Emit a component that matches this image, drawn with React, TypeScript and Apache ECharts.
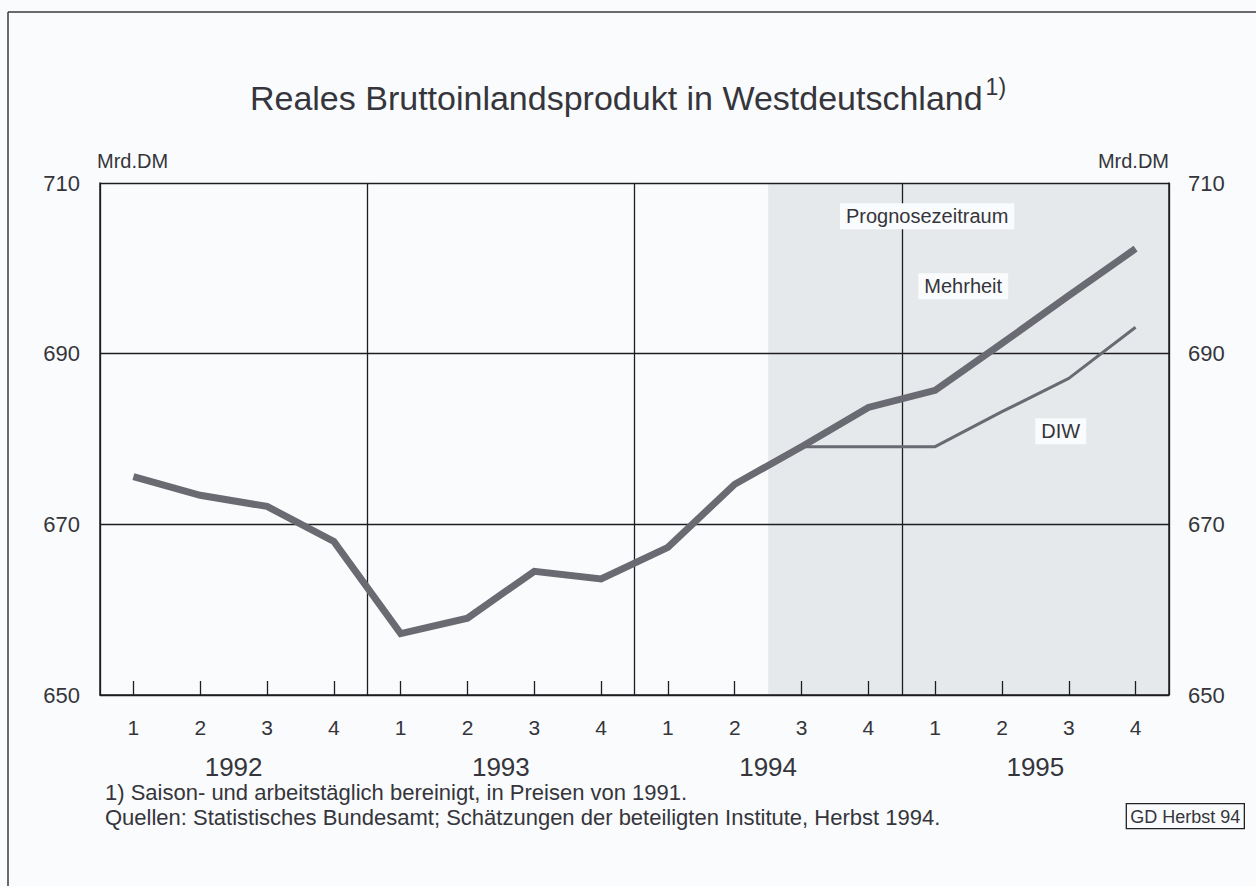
import React, { useEffect, useRef } from "react";
import * as echarts from "echarts";

const quarters = ["1", "2", "3", "4", "1", "2", "3", "4", "1", "2", "3", "4", "1", "2", "3", "4"];
const years = ["1992", "1993", "1994", "1995"];
const mehrheit = [675.6, 673.4, 672.1, 668.0, 657.2, 659.0, 664.5, 663.6, 667.3, 674.7, 679.1, 683.7, 685.7, 691.2, 696.8, 702.3];
const diw = [null, null, null, null, null, null, null, null, null, null, 679.1, 679.1, 679.1, 683.2, 687.1, 693.1];
const yTicks = { min: 650, max: 710, interval: 20 };
const forecastStart = 10;
const forecastEnd = 16;
const annotations = [
  { name: "Prognosezeitraum", coord: [12.38, 706.1] },
  { name: "Mehrheit", coord: [12.92, 697.9] },
  { name: "DIW", coord: [14.38, 680.9] },
];
const footnotes = [
  "1) Saison- und arbeitstäglich bereinigt, in Preisen von 1991.",
  "Quellen: Statistisches Bundesamt; Schätzungen der beteiligten Institute, Herbst 1994.",
];

const FONT = "'Liberation Sans', Arial, sans-serif";
const TXT = "#35353b";
const LINE = "#6a6a72";
const GRID = "#1e1e22";
const BG = "#f9fbfc";

export default function App() {
  const ref = useRef<HTMLDivElement>(null);
  useEffect(() => {
    document.body.style.margin = "0";
    const chart = echarts.init(ref.current!, null, { renderer: "svg" });
    chart.setOption({
      animation: false,
      backgroundColor: BG,
      textStyle: { fontFamily: FONT },
      title: {
        text: "Reales Bruttoinlandsprodukt in Westdeutschland{sup|1)}",
        left: "center",
        top: 70,
        textStyle: {
          fontFamily: FONT,
          fontSize: 34,
          fontWeight: "normal",
          color: TXT,
          lineHeight: 46,
          rich: {
            sup: { fontSize: 23, color: TXT, fontFamily: FONT, verticalAlign: "top", lineHeight: 22, padding: [0, 0, 22, 3] },
          },
        },
      },
      grid: { left: 100, right: 87, top: 183, bottom: 191, show: false },
      xAxis: [
        {
          type: "category",
          data: quarters,
          boundaryGap: true,
          position: "bottom",
          z: 2,
          axisLine: { show: true, lineStyle: { color: GRID, width: 1.5 } },
          axisTick: { show: true, inside: true, length: 14, alignWithLabel: true, lineStyle: { color: GRID, width: 1.3 } },
          axisLabel: { fontSize: 21, color: TXT, margin: 22, fontFamily: FONT },
          splitLine: { show: false },
        },
        {
          type: "category",
          data: years,
          position: "bottom",
          offset: 38,
          axisLine: { show: false },
          axisTick: { show: false },
          axisLabel: { fontSize: 26, color: TXT, margin: 21, fontFamily: FONT },
          splitLine: { show: false },
        },
        {
          type: "value",
          min: 0,
          max: 16,
          interval: 4,
          position: "top",
          z: 2,
          axisLine: { show: false },
          axisTick: { show: false },
          axisLabel: { show: false },
          splitLine: { show: true, lineStyle: { color: GRID, width: 1.3 } },
        },
      ],
      yAxis: [
        {
          type: "value",
          ...yTicks,
          position: "left",
          z: 2,
          name: "Mrd.DM",
          nameLocation: "end",
          nameGap: 12,
          nameTextStyle: { align: "left", fontSize: 20, color: TXT, fontFamily: FONT, padding: [0, 0, 0, -3] },
          axisLine: { show: true, lineStyle: { color: GRID, width: 1.5 } },
          axisTick: { show: false },
          axisLabel: { fontSize: 22, color: TXT, margin: 20, fontFamily: FONT },
          splitLine: { show: true, lineStyle: { color: GRID, width: 1.3 } },
        },
        {
          type: "value",
          ...yTicks,
          position: "right",
          z: 2,
          name: "Mrd.DM",
          nameLocation: "end",
          nameGap: 12,
          nameTextStyle: { align: "right", fontSize: 20, color: TXT, fontFamily: FONT },
          axisLine: { show: true, lineStyle: { color: GRID, width: 1.5 } },
          axisTick: { show: false },
          axisLabel: { fontSize: 22, color: TXT, margin: 19, fontFamily: FONT },
          splitLine: { show: false },
        },
      ],
      series: [
        {
          name: "forecast",
          type: "line",
          xAxisIndex: 2,
          yAxisIndex: 0,
          z: 0,
          zlevel: 0,
          data: [[forecastStart, yTicks.min]],
          symbol: "none",
          lineStyle: { opacity: 0 },
          silent: true,
          markArea: {
            silent: true,
            z: 0,
            itemStyle: { color: "#e6e9ec" },
            data: [[{ xAxis: forecastStart, yAxis: yTicks.min }, { xAxis: forecastEnd, yAxis: yTicks.max }]],
          },
        },
        {
          name: "DIW",
          type: "line",
          xAxisIndex: 0,
          yAxisIndex: 0,
          data: diw,
          symbol: "none",
          z: 3,
          lineStyle: { color: LINE, width: 3 },
        },
        {
          name: "Mehrheit",
          type: "line",
          xAxisIndex: 0,
          yAxisIndex: 0,
          data: mehrheit,
          symbol: "none",
          z: 4,
          lineStyle: { color: LINE, width: 7, join: "miter" },
        },
        {
          name: "labels",
          type: "line",
          xAxisIndex: 2,
          yAxisIndex: 0,
          z: 5,
          data: [[forecastStart, yTicks.min]],
          symbol: "none",
          lineStyle: { opacity: 0 },
          markPoint: {
            symbol: "circle",
            symbolSize: 0,
            silent: true,
            z: 6,
            label: {
              show: true,
              position: "inside",
              formatter: "{b}",
              fontSize: 20,
              color: TXT,
              fontFamily: FONT,
              backgroundColor: BG,
              padding: [3, 6],
            },
            data: annotations.map((a) => ({ name: a.name, coord: a.coord })),
          },
        },
      ],
      graphic: [
        { type: "line", shape: { x1: 8, y1: 12, x2: 1256, y2: 12 }, style: { stroke: "#3a3a3f", lineWidth: 1.5 } },
        { type: "line", shape: { x1: 8, y1: 12, x2: 8, y2: 886 }, style: { stroke: "#3a3a3f", lineWidth: 1.5 } },
        {
          type: "text",
          left: 105,
          top: 780,
          style: { text: footnotes.join("\n"), font: `22px ${FONT}`, fill: TXT, lineHeight: 25 },
        },
        {
          type: "text",
          right: 11,
          top: 803,
          style: {
            text: "GD Herbst 94",
            font: `18px ${FONT}`,
            fill: TXT,
            borderColor: "#222",
            borderWidth: 1.3,
            padding: [4, 4, 3, 4],
          },
        },
      ],
    });
    return () => chart.dispose();
  }, []);
  return <div ref={ref} style={{ width: 1256, height: 886 }} />;
}
